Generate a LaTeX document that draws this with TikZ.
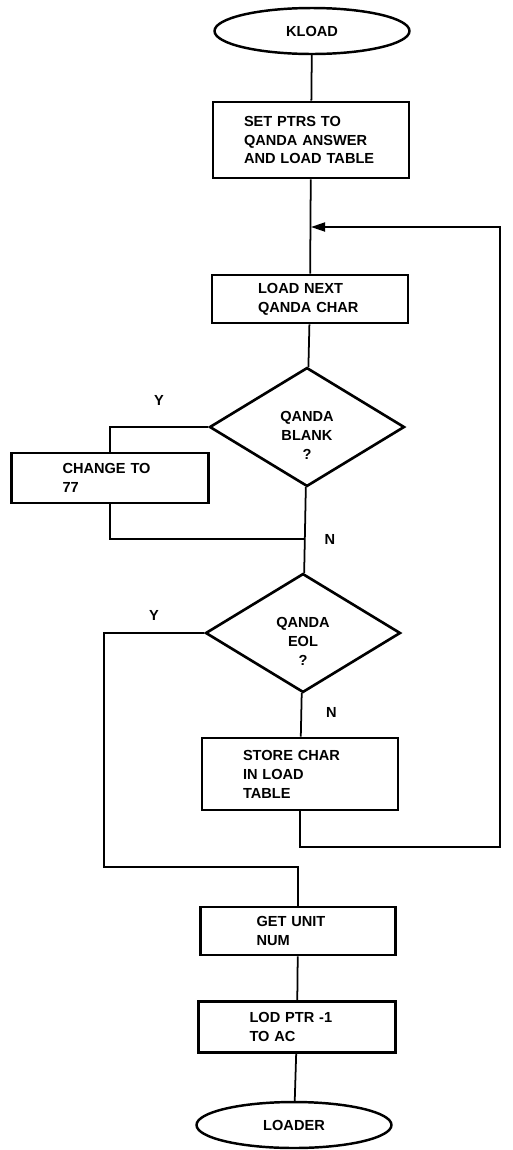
\documentclass[tikz,border=0pt]{standalone}
\usepackage{fontspec}
\setmainfont{Liberation Sans}
\usetikzlibrary{shapes.geometric, arrows.meta}

\begin{document}
\begin{tikzpicture}[x=0.02cm, y=-0.02cm, line width=1pt,
  every node/.style={font=\fontsize{8.3}{10.8}\selectfont\bfseries},
  >={Triangle[length=0.28cm,width=0.18cm]},
  term/.style={ellipse,draw,line width=1.4pt,minimum width=3.9cm,minimum height=0.92cm,inner sep=0pt},
  procbox/.style 2 args={rectangle,draw,line width=1.5pt,align=left,inner xsep=#1,inner ysep=0pt,text width=#2},
  decision/.style={diamond,draw,line width=1.5pt,align=center,minimum width=3.9cm,minimum height=2.24cm,inner sep=0pt}]

\useasboundingbox (0,0) rectangle (512,1150);

% Start
\node[term] (kload) at (312,31) {KLOAD};
\node[procbox={0.62cm}{2.68cm}, minimum height=1.52cm] (setptr) at (311,140) {SET PTRS TO\\QANDA ANSWER\\AND LOAD TABLE};
\coordinate (loopin) at (311,227);

% Loop body
\node[procbox={0.92cm}{2.08cm}, minimum height=0.96cm] (loadnext) at (310,299) {LOAD NEXT\\QANDA CHAR};
\node[decision] (blank) at (307,427) {\rule{0pt}{0.55cm}QANDA\\BLANK\\?};
\node[procbox={1.02cm}{1.9cm}, minimum height=1cm] (change) at (110,478) {CHANGE TO\\77};
\coordinate (join) at (305,539);
\node[decision] (eol) at (303,633) {\rule{0pt}{0.55cm}QANDA\\EOL\\?};
\node[procbox={0.82cm}{2.28cm}, minimum height=1.44cm] (store) at (300,774) {STORE CHAR\\IN LOAD\\TABLE};
\coordinate (backr) at (500,847);
\coordinate (backtop) at (500,227);
\coordinate (exitl) at (104,867);

% Exit
\node[procbox={1.12cm}{1.66cm}, minimum height=0.96cm] (getunit) at (298,931) {GET UNIT\\NUM};
\node[procbox={1.02cm}{1.9cm}, minimum height=1.02cm] (lodptr) at (297,1027) {LOD PTR -1\\TO AC};
\node[term] (loader) at (294,1125) {LOADER};

% Connectors
\draw (kload) -- (setptr);
\draw (setptr) -- (loadnext);
\draw (loadnext) -- (blank);
\draw (blank.west) -| (change.north) node[pos=0.25,above=0.3cm] (yblank) {Y};
\draw (change.south) |- (join);
\draw (blank) -- (eol) node[pos=0.61,right=0.26cm] (nblank) {N};
\draw (eol.west) -| (exitl) node[pos=0.25,above=0.12cm] (yeol) {Y} -| (getunit.north);
\draw (eol) -- (store) node[pos=0.45,right=0.36cm] (neol) {N};
\draw[->] (store.south) |- (backr) -- (backtop) -- (loopin);
\draw (getunit) -- (lodptr);
\draw (lodptr) -- (loader);

\end{tikzpicture}
\end{document}
